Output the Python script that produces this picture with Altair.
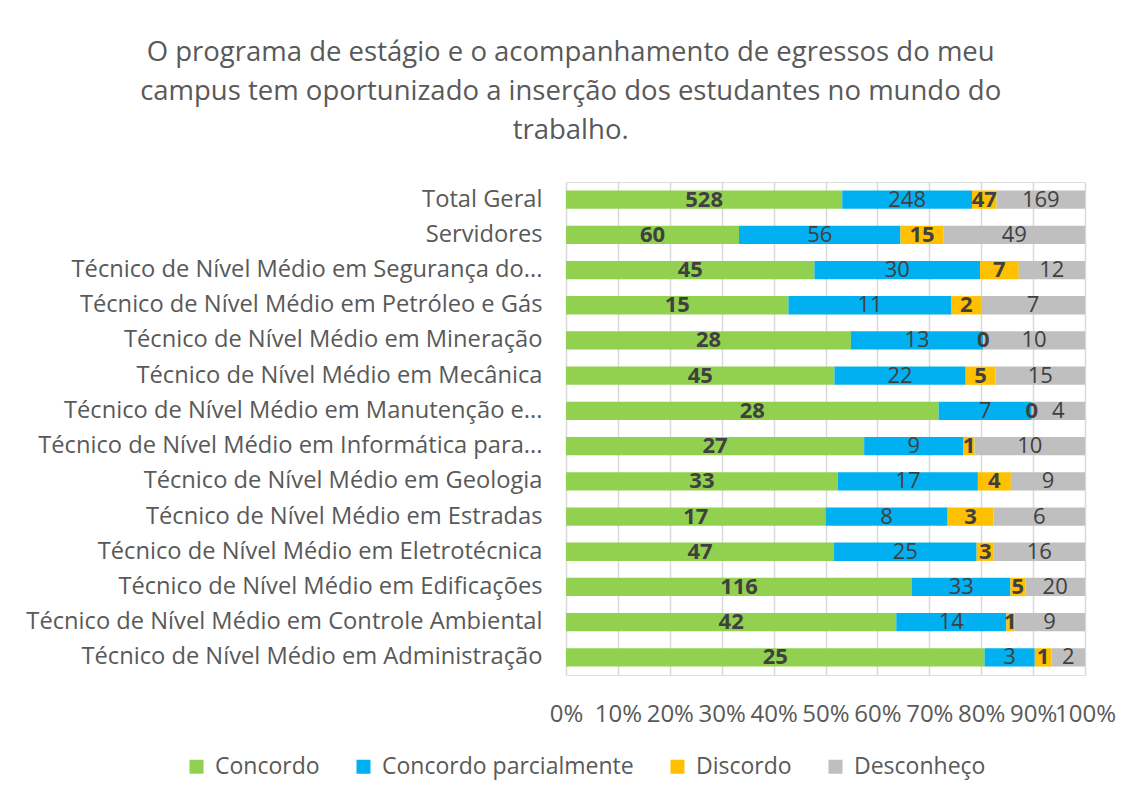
import altair as alt
import pandas as pd

categories = [
    "Total Geral",
    "Servidores",
    "Técnico de Nível Médio em Segurança do...",
    "Técnico de Nível Médio em Petróleo e Gás",
    "Técnico de Nível Médio em Mineração",
    "Técnico de Nível Médio em Mecânica",
    "Técnico de Nível Médio em Manutenção e...",
    "Técnico de Nível Médio em Informática para...",
    "Técnico de Nível Médio em Geologia",
    "Técnico de Nível Médio em Estradas",
    "Técnico de Nível Médio em Eletrotécnica",
    "Técnico de Nível Médio em Edificações",
    "Técnico de Nível Médio em Controle Ambiental",
    "Técnico de Nível Médio em Administração",
]
responses = ["Concordo", "Concordo parcialmente", "Discordo", "Desconheço"]
colors = ["#92D050", "#00B0F0", "#FFC000", "#BFBFBF"]

concordo = [528, 60, 45, 15, 28, 45, 28, 27, 33, 17, 47, 116, 42, 25]
parcial = [248, 56, 30, 11, 13, 22, 7, 9, 17, 8, 25, 33, 14, 3]
discordo = [47, 15, 7, 2, 0, 5, 0, 1, 4, 3, 3, 5, 1, 1]
desconheco = [169, 49, 12, 7, 10, 15, 4, 10, 9, 6, 16, 20, 9, 2]

tick_values = [0, 0.1, 0.2, 0.3, 0.4, 0.5, 0.6, 0.7, 0.8, 0.9, 1.0]
title_lines = [
    "O programa de estágio e o acompanhamento de egressos do meu",
    "campus tem oportunizado a inserção dos estudantes no mundo do",
    "trabalho.",
]

series = [concordo, parcial, discordo, desconheco]
rows = []
for i, c in enumerate(categories):
    for j, r in enumerate(responses):
        rows.append({"cat": c, "resp": r, "order": j, "value": series[j][i]})
df = pd.DataFrame(rows)

FONT = "Open Sans"
TXT = "#595959"

base = (
    alt.Chart(df)
    .transform_joinaggregate(total="sum(value)", groupby=["cat"])
    .transform_window(
        cum="sum(value)",
        sort=[alt.SortField("order")],
        groupby=["cat"],
        frame=[None, 0],
    )
    .transform_calculate(
        start="(datum.cum - datum.value) / datum.total",
        end="datum.cum / datum.total",
        mid="(datum.cum - datum.value / 2) / datum.total",
    )
)

y_enc = alt.Y(
    "cat:N",
    sort=categories,
    title=None,
    scale=alt.Scale(paddingInner=0.48, paddingOuter=0.24),
    axis=alt.Axis(
        labelFontSize=23.7,
        labelFont=FONT,
        labelColor=TXT,
        labelLimit=700,
        labelPadding=24,
        ticks=False,
        domain=False,
        grid=False,
    ),
)

bars = base.mark_bar().encode(
    x=alt.X(
        "start:Q",
        scale=alt.Scale(domain=[0, 1], nice=False),
        title=None,
        axis=alt.Axis(
            values=tick_values,
            format=".0%",
            grid=True,
            gridColor="#d9d9d9",
            gridWidth=1.5,
            domain=False,
            ticks=False,
            labelFontSize=24,
            labelFont=FONT,
            labelColor=TXT,
            labelPadding=27,
            labelOverlap=False,
            labelFlush=False,
        ),
    ),
    x2="end:Q",
    y=y_enc,
    color=alt.Color(
        "resp:N",
        scale=alt.Scale(domain=responses, range=colors),
        sort=responses,
        legend=alt.Legend(
            title=None,
            orient="none",
            legendX=-381,
            legendY=573,
            direction="horizontal",
            symbolType="square",
            symbolSize=196,
            symbolStrokeWidth=0,
            labelFontSize=23,
            labelFont=FONT,
            labelColor=TXT,
            labelLimit=500,
            labelOffset=7,
            columnPadding=32,
        ),
    ),
)

bold_txt = (
    base.transform_filter(alt.FieldOneOfPredicate(field="resp", oneOf=["Concordo", "Discordo"]))
    .mark_text(fontSize=22, font=FONT, fontWeight="bold", color="#404040")
    .encode(x="mid:Q", y=alt.Y("cat:N", sort=categories), text="value:Q")
)
norm_txt = (
    base.transform_filter(alt.FieldOneOfPredicate(field="resp", oneOf=["Concordo parcialmente", "Desconheço"]))
    .mark_text(fontSize=22, font=FONT, color="#404040")
    .encode(x="mid:Q", y=alt.Y("cat:N", sort=categories), text="value:Q")
)

chart = (
    alt.layer(bars, bold_txt, norm_txt)
    .properties(
        width=519,
        height=493,
        padding={"left": 17, "top": 30, "right": 5, "bottom": 5},
        title=alt.TitleParams(
            text=title_lines,
            fontSize=27.5,
            font=FONT,
            fontWeight="normal",
            color=TXT,
            lineHeight=39,
            anchor="middle",
            frame="bounds",
            offset=38,
        ),
    )
    .configure_view(stroke=None)
    .configure(background="white")
)

chart.save("out.html", embed_options={"renderer": "svg", "actions": False})
